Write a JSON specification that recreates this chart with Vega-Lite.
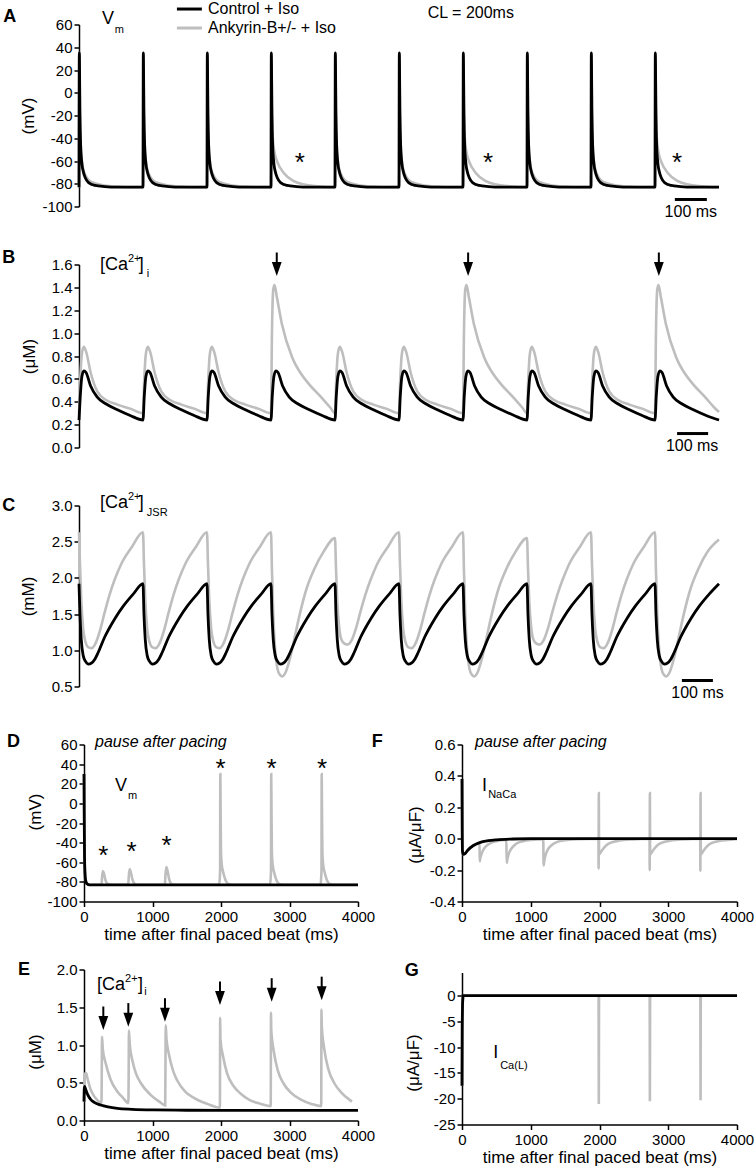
{
"$schema":"https://vega.github.io/schema/vega-lite/v6.json",
"padding":{"left":2,"top":0.5,"right":5,"bottom":5},
"background":"white",
"config":{"font":"Liberation Sans","view":{"stroke":null},
"axis":{"labelFont":"Liberation Sans","labelFontSize":15,"labelColor":"#000","titleFont":"Liberation Sans","titleFontSize":17,"titleFontWeight":"normal","titleColor":"#000","domainColor":"#000","domainWidth":1.5,"tickColor":"#000","tickWidth":1.5,"tickSize":5,"labelPadding":2,"grid":false,"labelOverlap":false,"labelFlush":false}},
"datasets":{
"Ac":[{"t":0,"v":-83},{"t":1,"v":35},{"t":3,"v":-20},{"t":5,"v":-45},{"t":9,"v":-62},{"t":14,"v":-70},{"t":20,"v":-75},{"t":30,"v":-79},{"t":50,"v":-81.5},{"t":80,"v":-82.5},{"t":120,"v":-83},
{"t":200,"v":-83},{"t":201,"v":35},{"t":203,"v":-20},{"t":205,"v":-45},{"t":209,"v":-62},{"t":214,"v":-70},{"t":220,"v":-75},{"t":230,"v":-79},{"t":250,"v":-81.5},{"t":280,"v":-82.5},{"t":320,"v":-83},
{"t":400,"v":-83},{"t":401,"v":35},{"t":403,"v":-20},{"t":405,"v":-45},{"t":409,"v":-62},{"t":414,"v":-70},{"t":420,"v":-75},{"t":430,"v":-79},{"t":450,"v":-81.5},{"t":480,"v":-82.5},{"t":520,"v":-83},
{"t":600,"v":-83},{"t":601,"v":35},{"t":603,"v":-20},{"t":605,"v":-45},{"t":609,"v":-62},{"t":614,"v":-70},{"t":620,"v":-75},{"t":630,"v":-79},{"t":650,"v":-81.5},{"t":680,"v":-82.5},{"t":720,"v":-83},
{"t":800,"v":-83},{"t":801,"v":35},{"t":803,"v":-20},{"t":805,"v":-45},{"t":809,"v":-62},{"t":814,"v":-70},{"t":820,"v":-75},{"t":830,"v":-79},{"t":850,"v":-81.5},{"t":880,"v":-82.5},{"t":920,"v":-83},
{"t":1000,"v":-83},{"t":1001,"v":35},{"t":1003,"v":-20},{"t":1005,"v":-45},{"t":1009,"v":-62},{"t":1014,"v":-70},{"t":1020,"v":-75},{"t":1030,"v":-79},{"t":1050,"v":-81.5},{"t":1080,"v":-82.5},{"t":1120,"v":-83},
{"t":1200,"v":-83},{"t":1201,"v":35},{"t":1203,"v":-20},{"t":1205,"v":-45},{"t":1209,"v":-62},{"t":1214,"v":-70},{"t":1220,"v":-75},{"t":1230,"v":-79},{"t":1250,"v":-81.5},{"t":1280,"v":-82.5},{"t":1320,"v":-83},
{"t":1400,"v":-83},{"t":1401,"v":35},{"t":1403,"v":-20},{"t":1405,"v":-45},{"t":1409,"v":-62},{"t":1414,"v":-70},{"t":1420,"v":-75},{"t":1430,"v":-79},{"t":1450,"v":-81.5},{"t":1480,"v":-82.5},{"t":1520,"v":-83},
{"t":1600,"v":-83},{"t":1601,"v":35},{"t":1603,"v":-20},{"t":1605,"v":-45},{"t":1609,"v":-62},{"t":1614,"v":-70},{"t":1620,"v":-75},{"t":1630,"v":-79},{"t":1650,"v":-81.5},{"t":1680,"v":-82.5},{"t":1720,"v":-83},
{"t":1800,"v":-83},{"t":1801,"v":35},{"t":1803,"v":-20},{"t":1805,"v":-45},{"t":1809,"v":-62},{"t":1814,"v":-70},{"t":1820,"v":-75},{"t":1830,"v":-79},{"t":1850,"v":-81.5},{"t":1880,"v":-82.5},{"t":1920,"v":-83},
{"t":2000,"v":-83}],
"Aa":[{"t":0,"v":-83},{"t":1,"v":35},{"t":3,"v":-18},{"t":5,"v":-43},{"t":9,"v":-60},{"t":14,"v":-68},{"t":20,"v":-72.5},{"t":30,"v":-76.5},{"t":50,"v":-79.5},{"t":80,"v":-81.5},{"t":120,"v":-82.5},{"t":170,"v":-83},
{"t":200,"v":-83},{"t":201,"v":35},{"t":203,"v":-18},{"t":205,"v":-43},{"t":209,"v":-60},{"t":214,"v":-68},{"t":220,"v":-72.5},{"t":230,"v":-76.5},{"t":250,"v":-79.5},{"t":280,"v":-81.5},{"t":320,"v":-82.5},{"t":370,"v":-83},
{"t":400,"v":-83},{"t":401,"v":35},{"t":403,"v":-18},{"t":405,"v":-43},{"t":409,"v":-60},{"t":414,"v":-68},{"t":420,"v":-72.5},{"t":430,"v":-76.5},{"t":450,"v":-79.5},{"t":480,"v":-81.5},{"t":520,"v":-82.5},{"t":570,"v":-83},
{"t":600,"v":-83},{"t":601,"v":35},{"t":603,"v":-10},{"t":605,"v":-36},{"t":610,"v":-51},{"t":620,"v":-61},{"t":640,"v":-70.5},{"t":670,"v":-77.5},{"t":700,"v":-80.5},{"t":740,"v":-82},{"t":780,"v":-83},
{"t":800,"v":-83},{"t":801,"v":35},{"t":803,"v":-18},{"t":805,"v":-43},{"t":809,"v":-60},{"t":814,"v":-68},{"t":820,"v":-72.5},{"t":830,"v":-76.5},{"t":850,"v":-79.5},{"t":880,"v":-81.5},{"t":920,"v":-82.5},{"t":970,"v":-83},
{"t":1000,"v":-83},{"t":1001,"v":35},{"t":1003,"v":-18},{"t":1005,"v":-43},{"t":1009,"v":-60},{"t":1014,"v":-68},{"t":1020,"v":-72.5},{"t":1030,"v":-76.5},{"t":1050,"v":-79.5},{"t":1080,"v":-81.5},{"t":1120,"v":-82.5},{"t":1170,"v":-83},
{"t":1200,"v":-83},{"t":1201,"v":35},{"t":1203,"v":-10},{"t":1205,"v":-36},{"t":1210,"v":-51},{"t":1220,"v":-61},{"t":1240,"v":-70.5},{"t":1270,"v":-77.5},{"t":1300,"v":-80.5},{"t":1340,"v":-82},{"t":1380,"v":-83},
{"t":1400,"v":-83},{"t":1401,"v":35},{"t":1403,"v":-18},{"t":1405,"v":-43},{"t":1409,"v":-60},{"t":1414,"v":-68},{"t":1420,"v":-72.5},{"t":1430,"v":-76.5},{"t":1450,"v":-79.5},{"t":1480,"v":-81.5},{"t":1520,"v":-82.5},{"t":1570,"v":-83},
{"t":1600,"v":-83},{"t":1601,"v":35},{"t":1603,"v":-18},{"t":1605,"v":-43},{"t":1609,"v":-60},{"t":1614,"v":-68},{"t":1620,"v":-72.5},{"t":1630,"v":-76.5},{"t":1650,"v":-79.5},{"t":1680,"v":-81.5},{"t":1720,"v":-82.5},{"t":1770,"v":-83},
{"t":1800,"v":-83},{"t":1801,"v":35},{"t":1803,"v":-10},{"t":1805,"v":-36},{"t":1810,"v":-51},{"t":1820,"v":-61},{"t":1840,"v":-70.5},{"t":1870,"v":-77.5},{"t":1900,"v":-80.5},{"t":1940,"v":-82},{"t":1980,"v":-83},
{"t":2000,"v":-83}],
"Bc":[{"t":0,"v":0.24},{"t":4,"v":0.45},{"t":9,"v":0.62},{"t":15,"v":0.67},{"t":22,"v":0.655},{"t":36,"v":0.54},{"t":57,"v":0.44},{"t":85,"v":0.38},{"t":120,"v":0.33},{"t":160,"v":0.28},
{"t":200,"v":0.24},{"t":204,"v":0.45},{"t":209,"v":0.62},{"t":215,"v":0.67},{"t":222,"v":0.655},{"t":236,"v":0.54},{"t":257,"v":0.44},{"t":285,"v":0.38},{"t":320,"v":0.33},{"t":360,"v":0.28},
{"t":400,"v":0.24},{"t":404,"v":0.45},{"t":409,"v":0.62},{"t":415,"v":0.67},{"t":422,"v":0.655},{"t":436,"v":0.54},{"t":457,"v":0.44},{"t":485,"v":0.38},{"t":520,"v":0.33},{"t":560,"v":0.28},
{"t":600,"v":0.24},{"t":604,"v":0.45},{"t":609,"v":0.62},{"t":615,"v":0.67},{"t":622,"v":0.655},{"t":636,"v":0.54},{"t":657,"v":0.44},{"t":685,"v":0.38},{"t":720,"v":0.33},{"t":760,"v":0.28},
{"t":800,"v":0.24},{"t":804,"v":0.45},{"t":809,"v":0.62},{"t":815,"v":0.67},{"t":822,"v":0.655},{"t":836,"v":0.54},{"t":857,"v":0.44},{"t":885,"v":0.38},{"t":920,"v":0.33},{"t":960,"v":0.28},
{"t":1000,"v":0.24},{"t":1004,"v":0.45},{"t":1009,"v":0.62},{"t":1015,"v":0.67},{"t":1022,"v":0.655},{"t":1036,"v":0.54},{"t":1057,"v":0.44},{"t":1085,"v":0.38},{"t":1120,"v":0.33},{"t":1160,"v":0.28},
{"t":1200,"v":0.24},{"t":1204,"v":0.45},{"t":1209,"v":0.62},{"t":1215,"v":0.67},{"t":1222,"v":0.655},{"t":1236,"v":0.54},{"t":1257,"v":0.44},{"t":1285,"v":0.38},{"t":1320,"v":0.33},{"t":1360,"v":0.28},
{"t":1400,"v":0.24},{"t":1404,"v":0.45},{"t":1409,"v":0.62},{"t":1415,"v":0.67},{"t":1422,"v":0.655},{"t":1436,"v":0.54},{"t":1457,"v":0.44},{"t":1485,"v":0.38},{"t":1520,"v":0.33},{"t":1560,"v":0.28},
{"t":1600,"v":0.24},{"t":1604,"v":0.45},{"t":1609,"v":0.62},{"t":1615,"v":0.67},{"t":1622,"v":0.655},{"t":1636,"v":0.54},{"t":1657,"v":0.44},{"t":1685,"v":0.38},{"t":1720,"v":0.33},{"t":1760,"v":0.28},
{"t":1800,"v":0.24},{"t":1804,"v":0.45},{"t":1809,"v":0.62},{"t":1815,"v":0.67},{"t":1822,"v":0.655},{"t":1836,"v":0.54},{"t":1857,"v":0.44},{"t":1885,"v":0.38},{"t":1920,"v":0.33},{"t":1960,"v":0.28},
{"t":2000,"v":0.24}],
"Ba":[{"t":0,"v":0.3},{"t":4,"v":0.6},{"t":9,"v":0.82},{"t":15,"v":0.88},{"t":22,"v":0.84},{"t":36,"v":0.66},{"t":57,"v":0.49},{"t":85,"v":0.415},{"t":120,"v":0.375},{"t":160,"v":0.34},
{"t":200,"v":0.3},{"t":204,"v":0.6},{"t":209,"v":0.82},{"t":215,"v":0.88},{"t":222,"v":0.84},{"t":236,"v":0.66},{"t":257,"v":0.49},{"t":285,"v":0.415},{"t":320,"v":0.375},{"t":360,"v":0.34},
{"t":400,"v":0.3},{"t":404,"v":0.6},{"t":409,"v":0.82},{"t":415,"v":0.88},{"t":422,"v":0.84},{"t":436,"v":0.66},{"t":457,"v":0.49},{"t":485,"v":0.415},{"t":520,"v":0.375},{"t":560,"v":0.34},
{"t":600,"v":0.3},{"t":603,"v":1.0},{"t":607,"v":1.38},{"t":611,"v":1.42},{"t":618,"v":1.32},{"t":634,"v":1.08},{"t":666,"v":0.79},{"t":695,"v":0.64},{"t":720,"v":0.55},{"t":760,"v":0.43},{"t":785,"v":0.35},
{"t":800,"v":0.3},{"t":804,"v":0.6},{"t":809,"v":0.82},{"t":815,"v":0.88},{"t":822,"v":0.84},{"t":836,"v":0.66},{"t":857,"v":0.49},{"t":885,"v":0.415},{"t":920,"v":0.375},{"t":960,"v":0.34},
{"t":1000,"v":0.3},{"t":1004,"v":0.6},{"t":1009,"v":0.82},{"t":1015,"v":0.88},{"t":1022,"v":0.84},{"t":1036,"v":0.66},{"t":1057,"v":0.49},{"t":1085,"v":0.415},{"t":1120,"v":0.375},{"t":1160,"v":0.34},
{"t":1200,"v":0.3},{"t":1203,"v":1.0},{"t":1207,"v":1.38},{"t":1211,"v":1.42},{"t":1218,"v":1.32},{"t":1234,"v":1.08},{"t":1266,"v":0.79},{"t":1295,"v":0.64},{"t":1320,"v":0.55},{"t":1360,"v":0.43},{"t":1385,"v":0.35},
{"t":1400,"v":0.3},{"t":1404,"v":0.6},{"t":1409,"v":0.82},{"t":1415,"v":0.88},{"t":1422,"v":0.84},{"t":1436,"v":0.66},{"t":1457,"v":0.49},{"t":1485,"v":0.415},{"t":1520,"v":0.375},{"t":1560,"v":0.34},
{"t":1600,"v":0.3},{"t":1604,"v":0.6},{"t":1609,"v":0.82},{"t":1615,"v":0.88},{"t":1622,"v":0.84},{"t":1636,"v":0.66},{"t":1657,"v":0.49},{"t":1685,"v":0.415},{"t":1720,"v":0.375},{"t":1760,"v":0.34},
{"t":1800,"v":0.3},{"t":1803,"v":1.0},{"t":1807,"v":1.38},{"t":1811,"v":1.42},{"t":1818,"v":1.32},{"t":1834,"v":1.08},{"t":1866,"v":0.79},{"t":1895,"v":0.64},{"t":1920,"v":0.55},{"t":1960,"v":0.43},{"t":1985,"v":0.35},
{"t":2000,"v":0.31}],
"Cc":[{"t":0,"v":1.92},{"t":3,"v":1.5},{"t":7,"v":1.15},{"t":13,"v":0.93},{"t":20,"v":0.85},{"t":30,"v":0.81},{"t":38,"v":0.82},{"t":50,"v":0.88},{"t":60,"v":0.97},{"t":80,"v":1.18},{"t":111,"v":1.43},{"t":140,"v":1.62},{"t":170,"v":1.78},
{"t":200,"v":1.92},{"t":203,"v":1.5},{"t":207,"v":1.15},{"t":213,"v":0.93},{"t":220,"v":0.85},{"t":230,"v":0.81},{"t":238,"v":0.82},{"t":250,"v":0.88},{"t":260,"v":0.97},{"t":280,"v":1.18},{"t":311,"v":1.43},{"t":340,"v":1.62},{"t":370,"v":1.78},
{"t":400,"v":1.92},{"t":403,"v":1.5},{"t":407,"v":1.15},{"t":413,"v":0.93},{"t":420,"v":0.85},{"t":430,"v":0.81},{"t":438,"v":0.82},{"t":450,"v":0.88},{"t":460,"v":0.97},{"t":480,"v":1.18},{"t":511,"v":1.43},{"t":540,"v":1.62},{"t":570,"v":1.78},
{"t":600,"v":1.92},{"t":603,"v":1.5},{"t":607,"v":1.15},{"t":613,"v":0.93},{"t":620,"v":0.85},{"t":630,"v":0.81},{"t":638,"v":0.82},{"t":650,"v":0.88},{"t":660,"v":0.97},{"t":680,"v":1.18},{"t":711,"v":1.43},{"t":740,"v":1.62},{"t":770,"v":1.78},
{"t":800,"v":1.92},{"t":803,"v":1.5},{"t":807,"v":1.15},{"t":813,"v":0.93},{"t":820,"v":0.85},{"t":830,"v":0.81},{"t":838,"v":0.82},{"t":850,"v":0.88},{"t":860,"v":0.97},{"t":880,"v":1.18},{"t":911,"v":1.43},{"t":940,"v":1.62},{"t":970,"v":1.78},
{"t":1000,"v":1.92},{"t":1003,"v":1.5},{"t":1007,"v":1.15},{"t":1013,"v":0.93},{"t":1020,"v":0.85},{"t":1030,"v":0.81},{"t":1038,"v":0.82},{"t":1050,"v":0.88},{"t":1060,"v":0.97},{"t":1080,"v":1.18},{"t":1111,"v":1.43},{"t":1140,"v":1.62},{"t":1170,"v":1.78},
{"t":1200,"v":1.92},{"t":1203,"v":1.5},{"t":1207,"v":1.15},{"t":1213,"v":0.93},{"t":1220,"v":0.85},{"t":1230,"v":0.81},{"t":1238,"v":0.82},{"t":1250,"v":0.88},{"t":1260,"v":0.97},{"t":1280,"v":1.18},{"t":1311,"v":1.43},{"t":1340,"v":1.62},{"t":1370,"v":1.78},
{"t":1400,"v":1.92},{"t":1403,"v":1.5},{"t":1407,"v":1.15},{"t":1413,"v":0.93},{"t":1420,"v":0.85},{"t":1430,"v":0.81},{"t":1438,"v":0.82},{"t":1450,"v":0.88},{"t":1460,"v":0.97},{"t":1480,"v":1.18},{"t":1511,"v":1.43},{"t":1540,"v":1.62},{"t":1570,"v":1.78},
{"t":1600,"v":1.92},{"t":1603,"v":1.5},{"t":1607,"v":1.15},{"t":1613,"v":0.93},{"t":1620,"v":0.85},{"t":1630,"v":0.81},{"t":1638,"v":0.82},{"t":1650,"v":0.88},{"t":1660,"v":0.97},{"t":1680,"v":1.18},{"t":1711,"v":1.43},{"t":1740,"v":1.62},{"t":1770,"v":1.78},
{"t":1800,"v":1.92},{"t":1803,"v":1.5},{"t":1807,"v":1.15},{"t":1813,"v":0.93},{"t":1820,"v":0.85},{"t":1830,"v":0.81},{"t":1838,"v":0.82},{"t":1850,"v":0.88},{"t":1860,"v":0.97},{"t":1880,"v":1.18},{"t":1911,"v":1.43},{"t":1940,"v":1.62},{"t":1970,"v":1.78},
{"t":2000,"v":1.92}],
"Ca":[{"t":0,"v":2.63},{"t":3,"v":2.2},{"t":7,"v":1.7},{"t":13,"v":1.3},{"t":20,"v":1.12},{"t":30,"v":1.04},{"t":40,"v":1.03},{"t":52,"v":1.1},{"t":66,"v":1.28},{"t":80,"v":1.52},{"t":95,"v":1.76},{"t":111,"v":1.97},{"t":135,"v":2.22},{"t":164,"v":2.42},
{"t":200,"v":2.63},{"t":203,"v":2.2},{"t":207,"v":1.7},{"t":213,"v":1.3},{"t":220,"v":1.12},{"t":230,"v":1.04},{"t":240,"v":1.03},{"t":252,"v":1.1},{"t":266,"v":1.28},{"t":280,"v":1.52},{"t":295,"v":1.76},{"t":311,"v":1.97},{"t":335,"v":2.22},{"t":364,"v":2.42},
{"t":400,"v":2.63},{"t":403,"v":2.2},{"t":407,"v":1.7},{"t":413,"v":1.3},{"t":420,"v":1.12},{"t":430,"v":1.04},{"t":440,"v":1.03},{"t":452,"v":1.1},{"t":466,"v":1.28},{"t":480,"v":1.52},{"t":495,"v":1.76},{"t":511,"v":1.97},{"t":535,"v":2.22},{"t":564,"v":2.42},
{"t":600,"v":2.63},{"t":603,"v":2.1},{"t":607,"v":1.5},{"t":613,"v":1.0},{"t":620,"v":0.75},{"t":628,"v":0.66},{"t":636,"v":0.64},{"t":646,"v":0.7},{"t":660,"v":0.9},{"t":675,"v":1.2},{"t":690,"v":1.5},{"t":711,"v":1.85},{"t":735,"v":2.12},{"t":764,"v":2.36},
{"t":800,"v":2.55},{"t":803,"v":2.15},{"t":807,"v":1.68},{"t":813,"v":1.32},{"t":820,"v":1.15},{"t":830,"v":1.09},{"t":840,"v":1.08},{"t":852,"v":1.14},{"t":866,"v":1.31},{"t":880,"v":1.54},{"t":895,"v":1.77},{"t":911,"v":1.97},{"t":935,"v":2.22},{"t":964,"v":2.42},
{"t":1000,"v":2.63},{"t":1003,"v":2.2},{"t":1007,"v":1.7},{"t":1013,"v":1.3},{"t":1020,"v":1.12},{"t":1030,"v":1.04},{"t":1040,"v":1.03},{"t":1052,"v":1.1},{"t":1066,"v":1.28},{"t":1080,"v":1.52},{"t":1095,"v":1.76},{"t":1111,"v":1.97},{"t":1135,"v":2.22},{"t":1164,"v":2.42},
{"t":1200,"v":2.63},{"t":1203,"v":2.1},{"t":1207,"v":1.5},{"t":1213,"v":1.0},{"t":1220,"v":0.75},{"t":1228,"v":0.66},{"t":1236,"v":0.64},{"t":1246,"v":0.7},{"t":1260,"v":0.9},{"t":1275,"v":1.2},{"t":1290,"v":1.5},{"t":1311,"v":1.85},{"t":1335,"v":2.12},{"t":1364,"v":2.36},
{"t":1400,"v":2.55},{"t":1403,"v":2.15},{"t":1407,"v":1.68},{"t":1413,"v":1.32},{"t":1420,"v":1.15},{"t":1430,"v":1.09},{"t":1440,"v":1.08},{"t":1452,"v":1.14},{"t":1466,"v":1.31},{"t":1480,"v":1.54},{"t":1495,"v":1.77},{"t":1511,"v":1.97},{"t":1535,"v":2.22},{"t":1564,"v":2.42},
{"t":1600,"v":2.63},{"t":1603,"v":2.2},{"t":1607,"v":1.7},{"t":1613,"v":1.3},{"t":1620,"v":1.12},{"t":1630,"v":1.04},{"t":1640,"v":1.03},{"t":1652,"v":1.1},{"t":1666,"v":1.28},{"t":1680,"v":1.52},{"t":1695,"v":1.76},{"t":1711,"v":1.97},{"t":1735,"v":2.22},{"t":1764,"v":2.42},
{"t":1800,"v":2.63},{"t":1803,"v":2.1},{"t":1807,"v":1.5},{"t":1813,"v":1.0},{"t":1820,"v":0.75},{"t":1828,"v":0.66},{"t":1836,"v":0.64},{"t":1846,"v":0.7},{"t":1860,"v":0.9},{"t":1875,"v":1.2},{"t":1890,"v":1.5},{"t":1911,"v":1.85},{"t":1935,"v":2.12},{"t":1964,"v":2.36},
{"t":2000,"v":2.53}],
"Dc":[{"t":0,"v":30},{"t":3,"v":-10},{"t":8,"v":-55},{"t":15,"v":-72},{"t":25,"v":-79},{"t":45,"v":-82},{"t":80,"v":-83},{"t":4000,"v":-83}],
"Da":[{"t":0,"v":30},{"t":3,"v":-8},{"t":8,"v":-52},{"t":15,"v":-70},{"t":25,"v":-78},{"t":45,"v":-81.5},{"t":90,"v":-83},
{"t":255,"v":-83},{"t":265,"v":-74},{"t":276,"v":-69},{"t":290,"v":-71},{"t":312,"v":-78},{"t":345,"v":-82},{"t":400,"v":-83},
{"t":645,"v":-83},{"t":655,"v":-73},{"t":667,"v":-67},{"t":681,"v":-69.5},{"t":705,"v":-77},{"t":740,"v":-82},{"t":800,"v":-83},
{"t":1180,"v":-83},{"t":1190,"v":-72},{"t":1203,"v":-65},{"t":1217,"v":-68},{"t":1242,"v":-77},{"t":1278,"v":-82},{"t":1340,"v":-83},
{"t":1975,"v":-83},{"t":1983,"v":-75},{"t":1987,"v":-68},{"t":1990,"v":30},{"t":1994,"v":-5},{"t":2000,"v":-50},{"t":2012,"v":-63},{"t":2035,"v":-71},{"t":2065,"v":-78},{"t":2105,"v":-82},{"t":2160,"v":-83},
{"t":2718,"v":-83},{"t":2726,"v":-75},{"t":2730,"v":-68},{"t":2733,"v":30},{"t":2737,"v":-5},{"t":2743,"v":-50},{"t":2755,"v":-63},{"t":2778,"v":-71},{"t":2808,"v":-78},{"t":2848,"v":-82},{"t":2903,"v":-83},
{"t":3455,"v":-83},{"t":3463,"v":-75},{"t":3467,"v":-68},{"t":3470,"v":30},{"t":3474,"v":-5},{"t":3480,"v":-50},{"t":3492,"v":-63},{"t":3515,"v":-71},{"t":3545,"v":-78},{"t":3585,"v":-82},{"t":3640,"v":-83},
{"t":4000,"v":-83}],
"Ec":[{"t":0,"v":0.25},{"t":4,"v":0.42},{"t":10,"v":0.45},{"t":25,"v":0.41},{"t":50,"v":0.35},{"t":97,"v":0.28},{"t":150,"v":0.24},{"t":243,"v":0.205},{"t":350,"v":0.18},{"t":486,"v":0.16},{"t":700,"v":0.148},{"t":1000,"v":0.14},{"t":1500,"v":0.136},{"t":2500,"v":0.135},{"t":4000,"v":0.135}],
"Ea":[{"t":0,"v":0.25},{"t":6,"v":0.5},{"t":15,"v":0.62},{"t":30,"v":0.63},{"t":50,"v":0.56},{"t":97,"v":0.41},{"t":150,"v":0.32},{"t":194,"v":0.27},{"t":255,"v":0.23},
{"t":259,"v":0.6},{"t":263,"v":1.11},{"t":274,"v":0.95},{"t":316,"v":0.76},{"t":389,"v":0.54},{"t":486,"v":0.385},{"t":570,"v":0.3},{"t":648,"v":0.23},
{"t":652,"v":0.6},{"t":656,"v":1.19},{"t":667,"v":1.02},{"t":705,"v":0.8},{"t":760,"v":0.62},{"t":826,"v":0.5},{"t":972,"v":0.34},{"t":1100,"v":0.25},{"t":1185,"v":0.2},
{"t":1189,"v":0.65},{"t":1193,"v":1.26},{"t":1204,"v":1.08},{"t":1239,"v":0.88},{"t":1300,"v":0.66},{"t":1361,"v":0.53},{"t":1480,"v":0.38},{"t":1604,"v":0.3},{"t":1800,"v":0.22},{"t":1984,"v":0.17},
{"t":1988,"v":1.36},{"t":1992,"v":1.07},{"t":2030,"v":0.85},{"t":2090,"v":0.62},{"t":2180,"v":0.46},{"t":2280,"v":0.36},{"t":2420,"v":0.27},{"t":2580,"v":0.22},{"t":2726,"v":0.19},
{"t":2730,"v":1.43},{"t":2734,"v":1.2},{"t":2770,"v":0.92},{"t":2830,"v":0.66},{"t":2920,"v":0.48},{"t":3020,"v":0.37},{"t":3160,"v":0.28},{"t":3320,"v":0.22},{"t":3463,"v":0.19},
{"t":3467,"v":1.47},{"t":3471,"v":1.25},{"t":3507,"v":0.95},{"t":3567,"v":0.68},{"t":3657,"v":0.49},{"t":3757,"v":0.37},{"t":3897,"v":0.26},{"t":3912,"v":0.25}],
"Fc":[{"t":0,"v":0.38},{"t":3,"v":0.05},{"t":7,"v":-0.08},{"t":20,"v":-0.1},{"t":40,"v":-0.097},{"t":80,"v":-0.075},{"t":160,"v":-0.045},{"t":257,"v":-0.025},{"t":380,"v":-0.013},{"t":500,"v":-0.007},{"t":743,"v":-0.002},{"t":1000,"v":0},{"t":4000,"v":0}],
"Fa":[{"t":0,"v":0.38},{"t":3,"v":0.05},{"t":7,"v":-0.08},{"t":20,"v":-0.1},{"t":40,"v":-0.097},{"t":80,"v":-0.075},{"t":160,"v":-0.045},{"t":250,"v":-0.027},
{"t":255,"v":-0.027},{"t":258,"v":-0.145},{"t":268,"v":-0.12},{"t":290,"v":-0.09},{"t":318,"v":-0.065},{"t":378,"v":-0.037},{"t":458,"v":-0.02},{"t":560,"v":-0.01},{"t":645,"v":-0.006},
{"t":650,"v":-0.155},{"t":660,"v":-0.13},{"t":682,"v":-0.095},{"t":710,"v":-0.068},{"t":770,"v":-0.038},{"t":850,"v":-0.02},{"t":950,"v":-0.01},{"t":1100,"v":-0.004},{"t":1182,"v":-0.003},
{"t":1187,"v":-0.17},{"t":1197,"v":-0.14},{"t":1219,"v":-0.1},{"t":1247,"v":-0.07},{"t":1307,"v":-0.04},{"t":1387,"v":-0.02},{"t":1500,"v":-0.01},{"t":1700,"v":-0.003},{"t":1980,"v":0},
{"t":1985,"v":-0.005},{"t":1987,"v":-0.19},{"t":1990,"v":0.29},{"t":1993,"v":-0.08},{"t":1998,"v":-0.1},{"t":2020,"v":-0.085},{"t":2070,"v":-0.055},{"t":2140,"v":-0.03},{"t":2290,"v":-0.012},{"t":2490,"v":-0.004},{"t":2725,"v":0},
{"t":2728,"v":-0.005},{"t":2730,"v":-0.2},{"t":2733,"v":0.29},{"t":2736,"v":-0.08},{"t":2741,"v":-0.1},{"t":2763,"v":-0.085},{"t":2813,"v":-0.055},{"t":2883,"v":-0.03},{"t":3033,"v":-0.012},{"t":3233,"v":-0.004},{"t":3462,"v":0},
{"t":3465,"v":-0.005},{"t":3467,"v":-0.205},{"t":3470,"v":0.29},{"t":3473,"v":-0.08},{"t":3478,"v":-0.1},{"t":3500,"v":-0.085},{"t":3550,"v":-0.055},{"t":3620,"v":-0.03},{"t":3770,"v":-0.012},{"t":3970,"v":-0.004},{"t":4000,"v":-0.003}],
"Gc":[{"t":0,"v":-17.5},{"t":3,"v":-6},{"t":8,"v":-1.5},{"t":15,"v":0},{"t":4000,"v":0}],
"Ga":[{"t":0,"v":-17.5},{"t":3,"v":-6},{"t":8,"v":-1.5},{"t":15,"v":0},{"t":1987,"v":0},{"t":1990,"v":-21},{"t":1993,"v":0},{"t":2730,"v":0},{"t":2733,"v":-20.5},{"t":2736,"v":0},{"t":3467,"v":0},{"t":3470,"v":-20.3},{"t":3473,"v":0},{"t":4000,"v":0}],
"ann":[
{"p":"A","k":"letter","t":-237,"v":67,"txt":"A"},
{"p":"A","k":"big","t":72,"v":64.4,"txt":"V"},
{"p":"A","k":"sub","t":112,"v":55.6,"txt":"m"},
{"p":"A","k":"legc","t":306,"t2":384,"v":73.6},
{"p":"A","k":"lega","t":306,"t2":384,"v":56.9},
{"p":"A","k":"note","t":403,"v":73.6,"txt":"Control + Iso"},
{"p":"A","k":"note","t":403,"v":56.9,"txt":"Ankyrin-B+/- + Iso"},
{"p":"A","k":"note","t":1090,"v":70.1,"txt":"CL = 200ms"},
{"p":"A","k":"star","t":690,"v":-56,"txt":"*"},
{"p":"A","k":"star","t":1278,"v":-56,"txt":"*"},
{"p":"A","k":"star","t":1869,"v":-56,"txt":"*"},
{"p":"A","k":"bar","t":1862,"t2":1962,"v":-93.8},
{"p":"A","k":"cnote","t":1912,"v":-104.4,"txt":"100 ms"},
{"p":"B","k":"letter","t":-240,"v":1.66,"txt":"B"},
{"p":"B","k":"big","t":66,"v":1.6,"txt":"[Ca"},
{"p":"B","k":"sub","t":153,"v":1.65,"txt":"2+"},
{"p":"B","k":"big","t":187,"v":1.6,"txt":"]"},
{"p":"B","k":"sub","t":212,"v":1.52,"txt":"i"},
{"p":"B","k":"arrow","t":618,"v":1.705,"v2":1.6},
{"p":"B","k":"arrow","t":1216,"v":1.705,"v2":1.6},
{"p":"B","k":"arrow","t":1812,"v":1.705,"v2":1.6},
{"p":"B","k":"head","t":618,"v":1.561},
{"p":"B","k":"head","t":1216,"v":1.561},
{"p":"B","k":"head","t":1812,"v":1.561},
{"p":"B","k":"bar","t":1869,"t2":1966,"v":0.122},
{"p":"B","k":"cnote","t":1916,"v":0.017,"txt":"100 ms"},
{"p":"C","k":"letter","t":-240,"v":2.99,"txt":"C"},
{"p":"C","k":"big","t":66,"v":3.04,"txt":"[Ca"},
{"p":"C","k":"sub","t":153,"v":3.12,"txt":"2+"},
{"p":"C","k":"big","t":187,"v":3.04,"txt":"]"},
{"p":"C","k":"sub","t":212,"v":2.9,"txt":"JSR"},
{"p":"C","k":"bar","t":1884,"t2":1981,"v":0.583},
{"p":"C","k":"cnote","t":1933,"v":0.417,"txt":"100 ms"},
{"p":"D","k":"letter","t":-1124,"v":63,"txt":"D"},
{"p":"D","k":"ital","t":161,"v":63,"txt":"pause after pacing"},
{"p":"D","k":"big","t":453,"v":17.2,"txt":"V"},
{"p":"D","k":"sub","t":642,"v":8,"txt":"m"},
{"p":"D","k":"star","t":282,"v":-47,"txt":"*"},
{"p":"D","k":"star","t":696,"v":-42.9,"txt":"*"},
{"p":"D","k":"star","t":1207,"v":-36.8,"txt":"*"},
{"p":"D","k":"star","t":1995,"v":41.7,"txt":"*"},
{"p":"D","k":"star","t":2738,"v":41.7,"txt":"*"},
{"p":"D","k":"star","t":3475,"v":41.7,"txt":"*"},
{"p":"E","k":"letter","t":-964,"v":1.99,"txt":"E"},
{"p":"E","k":"big","t":190,"v":1.8,"txt":"[Ca"},
{"p":"E","k":"sub","t":599,"v":1.87,"txt":"2+"},
{"p":"E","k":"big","t":788,"v":1.8,"txt":"]"},
{"p":"E","k":"sub","t":880,"v":1.7,"txt":"i"},
{"p":"E","k":"arrow","t":282,"v":1.51,"v2":1.355},
{"p":"E","k":"arrow","t":647,"v":1.555,"v2":1.4},
{"p":"E","k":"arrow","t":1182,"v":1.62,"v2":1.465},
{"p":"E","k":"arrow","t":1985,"v":1.841,"v2":1.686},
{"p":"E","k":"arrow","t":2740,"v":1.885,"v2":1.73},
{"p":"E","k":"arrow","t":3470,"v":1.905,"v2":1.75},
{"p":"E","k":"head","t":282,"v":1.291},
{"p":"E","k":"head","t":647,"v":1.336},
{"p":"E","k":"head","t":1182,"v":1.401},
{"p":"E","k":"head","t":1985,"v":1.622},
{"p":"E","k":"head","t":2740,"v":1.666},
{"p":"E","k":"head","t":3470,"v":1.686},
{"p":"F","k":"letter","t":-1314,"v":0.613,"txt":"F"},
{"p":"F","k":"ital","t":190,"v":0.613,"txt":"pause after pacing"},
{"p":"F","k":"big","t":292,"v":0.334,"txt":"I"},
{"p":"F","k":"sub","t":380,"v":0.28,"txt":"NaCa"},
{"p":"G","k":"letter","t":-832,"v":4.8,"txt":"G"},
{"p":"G","k":"big","t":453,"v":-11.2,"txt":"I"},
{"p":"G","k":"sub","t":555,"v":-13.7,"txt":"Ca(L)"}
]},
"spacing":58,
"bounds":"flush",
"resolve":{"scale":{"x":"independent","y":"independent"}},
"vconcat":[
{"width":640,"height":182,
"encoding":{"x":{"field":"t","type":"quantitative","scale":{"domain":[0,2000],"nice":false,"zero":false},"axis":null},
"y":{"field":"v","type":"quantitative","scale":{"domain":[-100,60],"nice":false,"zero":false},"axis":{"title":"(mV)","values":[-100,-80,-60,-40,-20,0,20,40,60],"titleX":-51,"titleBaseline":"middle","labelExpr":"replace(datum.label,'−','-')"}}},
"layer":[
{"data":{"name":"Aa"},"mark":{"type":"line","color":"#bebebe","strokeWidth":2.6,"interpolate":"monotone"}},
{"data":{"name":"Ac"},"mark":{"type":"line","color":"#000000","strokeWidth":2.8,"interpolate":"monotone"}},
{"data":{"name":"ann"},"transform":[{"filter":"datum.p==='A'&&datum.k==='letter'"}],"mark":{"type":"text","align":"left","baseline":"middle","fontSize":18,"fontWeight":"bold","color":"#000"},"encoding":{"text":{"field":"txt"}}},
{"data":{"name":"ann"},"transform":[{"filter":"datum.p==='A'&&datum.k==='big'"}],"mark":{"type":"text","align":"left","baseline":"middle","fontSize":18,"color":"#000"},"encoding":{"text":{"field":"txt"}}},
{"data":{"name":"ann"},"transform":[{"filter":"datum.p==='A'&&datum.k==='sub'"}],"mark":{"type":"text","align":"left","baseline":"middle","fontSize":11,"color":"#000"},"encoding":{"text":{"field":"txt"}}},
{"data":{"name":"ann"},"transform":[{"filter":"datum.p==='A'&&datum.k==='note'"}],"mark":{"type":"text","align":"left","baseline":"middle","fontSize":16,"color":"#000"},"encoding":{"text":{"field":"txt"}}},
{"data":{"name":"ann"},"transform":[{"filter":"datum.p==='A'&&datum.k==='cnote'"}],"mark":{"type":"text","align":"center","baseline":"middle","fontSize":16,"color":"#000"},"encoding":{"text":{"field":"txt"}}},
{"data":{"name":"ann"},"transform":[{"filter":"datum.p==='A'&&datum.k==='star'"}],"mark":{"type":"text","align":"center","baseline":"middle","fontSize":26,"dy":7,"color":"#000"},"encoding":{"text":{"field":"txt"}}},
{"data":{"name":"ann"},"transform":[{"filter":"datum.p==='A'&&datum.k==='bar'"}],"mark":{"type":"rule","color":"#000","strokeWidth":3},"encoding":{"x2":{"field":"t2"}}},
{"data":{"name":"ann"},"transform":[{"filter":"datum.p==='A'&&datum.k==='legc'"}],"mark":{"type":"rule","color":"#000","strokeWidth":3},"encoding":{"x2":{"field":"t2"}}},
{"data":{"name":"ann"},"transform":[{"filter":"datum.p==='A'&&datum.k==='lega'"}],"mark":{"type":"rule","color":"#bebebe","strokeWidth":3},"encoding":{"x2":{"field":"t2"}}}
]},
{"width":640,"height":183,
"encoding":{"x":{"field":"t","type":"quantitative","scale":{"domain":[0,2000],"nice":false,"zero":false},"axis":null},
"y":{"field":"v","type":"quantitative","scale":{"domain":[0,1.6],"nice":false,"zero":false},"axis":{"title":"(μM)","values":[0,0.2,0.4,0.6,0.8,1.0,1.2,1.4,1.6],"format":".1f","titleX":-50,"titleBaseline":"middle"}}},
"layer":[
{"data":{"name":"Ba"},"mark":{"type":"line","color":"#bebebe","strokeWidth":2.6,"interpolate":"monotone"}},
{"data":{"name":"Bc"},"mark":{"type":"line","color":"#000000","strokeWidth":2.8,"interpolate":"monotone"}},
{"data":{"name":"ann"},"transform":[{"filter":"datum.p==='B'&&datum.k==='letter'"}],"mark":{"type":"text","align":"left","baseline":"middle","fontSize":18,"fontWeight":"bold","color":"#000"},"encoding":{"text":{"field":"txt"}}},
{"data":{"name":"ann"},"transform":[{"filter":"datum.p==='B'&&datum.k==='big'"}],"mark":{"type":"text","align":"left","baseline":"middle","fontSize":18,"color":"#000"},"encoding":{"text":{"field":"txt"}}},
{"data":{"name":"ann"},"transform":[{"filter":"datum.p==='B'&&datum.k==='sub'"}],"mark":{"type":"text","align":"left","baseline":"middle","fontSize":11,"color":"#000"},"encoding":{"text":{"field":"txt"}}},
{"data":{"name":"ann"},"transform":[{"filter":"datum.p==='B'&&datum.k==='cnote'"}],"mark":{"type":"text","align":"center","baseline":"middle","fontSize":16,"color":"#000"},"encoding":{"text":{"field":"txt"}}},
{"data":{"name":"ann"},"transform":[{"filter":"datum.p==='B'&&datum.k==='bar'"}],"mark":{"type":"rule","color":"#000","strokeWidth":3},"encoding":{"x2":{"field":"t2"}}},
{"data":{"name":"ann"},"transform":[{"filter":"datum.p==='B'&&datum.k==='arrow'"}],"mark":{"type":"rule","color":"#000","strokeWidth":2},"encoding":{"y2":{"field":"v2"}}},
{"data":{"name":"ann"},"transform":[{"filter":"datum.p==='B'&&datum.k==='head'"}],"mark":{"type":"point","shape":"M0,1L-0.7,-1L0.7,-1Z","size":196,"filled":true,"color":"#000","opacity":1}}
]},
{"width":640,"height":181,
"encoding":{"x":{"field":"t","type":"quantitative","scale":{"domain":[0,2000],"nice":false,"zero":false},"axis":null},
"y":{"field":"v","type":"quantitative","scale":{"domain":[0.5,3.0],"nice":false,"zero":false},"axis":{"title":"(mM)","values":[0.5,1.0,1.5,2.0,2.5,3.0],"format":".1f","titleX":-51,"titleBaseline":"middle"}}},
"layer":[
{"data":{"name":"Ca"},"mark":{"type":"line","color":"#bebebe","strokeWidth":2.6,"interpolate":"monotone"}},
{"data":{"name":"Cc"},"mark":{"type":"line","color":"#000000","strokeWidth":2.8,"interpolate":"monotone"}},
{"data":{"name":"ann"},"transform":[{"filter":"datum.p==='C'&&datum.k==='letter'"}],"mark":{"type":"text","align":"left","baseline":"middle","fontSize":18,"fontWeight":"bold","color":"#000"},"encoding":{"text":{"field":"txt"}}},
{"data":{"name":"ann"},"transform":[{"filter":"datum.p==='C'&&datum.k==='big'"}],"mark":{"type":"text","align":"left","baseline":"middle","fontSize":18,"color":"#000"},"encoding":{"text":{"field":"txt"}}},
{"data":{"name":"ann"},"transform":[{"filter":"datum.p==='C'&&datum.k==='sub'"}],"mark":{"type":"text","align":"left","baseline":"middle","fontSize":11,"color":"#000"},"encoding":{"text":{"field":"txt"}}},
{"data":{"name":"ann"},"transform":[{"filter":"datum.p==='C'&&datum.k==='cnote'"}],"mark":{"type":"text","align":"center","baseline":"middle","fontSize":16,"color":"#000"},"encoding":{"text":{"field":"txt"}}},
{"data":{"name":"ann"},"transform":[{"filter":"datum.p==='C'&&datum.k==='bar'"}],"mark":{"type":"rule","color":"#000","strokeWidth":3},"encoding":{"x2":{"field":"t2"}}}
]},
{"width":658,"height":157,
"resolve":{"scale":{"x":"independent","y":"independent"},"axis":{"x":"independent","y":"independent"}},
"layer":[
{"encoding":{"x":{"field":"t","type":"quantitative","scale":{"domain":[0,4000],"range":[5,279],"nice":false,"zero":false},"axis":{"orient":"bottom","title":"time after final paced beat (ms)","values":[0,1000,2000,3000,4000],"format":"d","titlePadding":2,"labelPadding":3}},
"y":{"field":"v","type":"quantitative","scale":{"domain":[-100,60],"range":[157,0],"nice":false,"zero":false},"axis":{"orient":"left","offset":-5,"title":"(mV)","values":[-100,-80,-60,-40,-20,0,20,40,60],"titleX":-49,"titleY":67,"titleBaseline":"middle","labelExpr":"replace(datum.label,'−','-')"}}},
"layer":[
{"data":{"name":"Da"},"mark":{"type":"line","color":"#bebebe","strokeWidth":2.6,"interpolate":"monotone"}},
{"data":{"name":"Dc"},"mark":{"type":"line","color":"#000000","strokeWidth":2.8,"interpolate":"monotone"}},
{"data":{"name":"ann"},"transform":[{"filter":"datum.p==='D'&&datum.k==='letter'"}],"mark":{"type":"text","align":"left","baseline":"middle","fontSize":18,"fontWeight":"bold","color":"#000"},"encoding":{"text":{"field":"txt"}}},
{"data":{"name":"ann"},"transform":[{"filter":"datum.p==='D'&&datum.k==='big'"}],"mark":{"type":"text","align":"left","baseline":"middle","fontSize":18,"color":"#000"},"encoding":{"text":{"field":"txt"}}},
{"data":{"name":"ann"},"transform":[{"filter":"datum.p==='D'&&datum.k==='sub'"}],"mark":{"type":"text","align":"left","baseline":"middle","fontSize":11,"color":"#000"},"encoding":{"text":{"field":"txt"}}},
{"data":{"name":"ann"},"transform":[{"filter":"datum.p==='D'&&datum.k==='ital'"}],"mark":{"type":"text","align":"left","baseline":"middle","fontSize":16,"fontStyle":"italic","color":"#000"},"encoding":{"text":{"field":"txt"}}},
{"data":{"name":"ann"},"transform":[{"filter":"datum.p==='D'&&datum.k==='star'"}],"mark":{"type":"text","align":"center","baseline":"middle","fontSize":26,"dy":7,"color":"#000"},"encoding":{"text":{"field":"txt"}}}
]},
{"encoding":{"x":{"field":"t","type":"quantitative","scale":{"domain":[0,4000],"range":[383,658],"nice":false,"zero":false},"axis":{"orient":"bottom","title":"time after final paced beat (ms)","values":[0,1000,2000,3000,4000],"format":"d","titlePadding":2,"labelPadding":3}},
"y":{"field":"v","type":"quantitative","scale":{"domain":[-0.4,0.6],"range":[157,0],"nice":false,"zero":false},"axis":{"orient":"left","offset":-383,"title":"(μA/μF)","values":[-0.4,-0.2,0,0.2,0.4,0.6],"format":".1f","titleX":-47,"titleY":90,"titleBaseline":"middle","labelExpr":"replace(datum.label,'−','-')"}}},
"layer":[
{"data":{"name":"Fa"},"mark":{"type":"line","color":"#bebebe","strokeWidth":2.6,"interpolate":"monotone"}},
{"data":{"name":"Fc"},"mark":{"type":"line","color":"#000000","strokeWidth":2.8,"interpolate":"monotone"}},
{"data":{"name":"ann"},"transform":[{"filter":"datum.p==='F'&&datum.k==='letter'"}],"mark":{"type":"text","align":"left","baseline":"middle","fontSize":18,"fontWeight":"bold","color":"#000"},"encoding":{"text":{"field":"txt"}}},
{"data":{"name":"ann"},"transform":[{"filter":"datum.p==='F'&&datum.k==='big'"}],"mark":{"type":"text","align":"left","baseline":"middle","fontSize":18,"color":"#000"},"encoding":{"text":{"field":"txt"}}},
{"data":{"name":"ann"},"transform":[{"filter":"datum.p==='F'&&datum.k==='sub'"}],"mark":{"type":"text","align":"left","baseline":"middle","fontSize":11,"color":"#000"},"encoding":{"text":{"field":"txt"}}},
{"data":{"name":"ann"},"transform":[{"filter":"datum.p==='F'&&datum.k==='ital'"}],"mark":{"type":"text","align":"left","baseline":"middle","fontSize":16,"fontStyle":"italic","color":"#000"},"encoding":{"text":{"field":"txt"}}}
]}
]},
{"width":658,"height":165,
"resolve":{"scale":{"x":"independent","y":"independent"},"axis":{"x":"independent","y":"independent"}},
"layer":[
{"encoding":{"x":{"field":"t","type":"quantitative","scale":{"domain":[0,4000],"range":[5,279],"nice":false,"zero":false},"axis":{"orient":"bottom","offset":-4,"title":"time after final paced beat (ms)","values":[0,1000,2000,3000,4000],"format":"d","titlePadding":2,"labelPadding":3}},
"y":{"field":"v","type":"quantitative","scale":{"domain":[0,2],"range":[161,10],"nice":false,"zero":false},"axis":{"orient":"left","offset":-5,"title":"(μM)","values":[0,0.5,1.0,1.5,2.0],"format":".1f","titleX":-49,"titleY":92,"titleBaseline":"middle"}}},
"layer":[
{"data":{"name":"Ea"},"mark":{"type":"line","color":"#bebebe","strokeWidth":2.6,"interpolate":"monotone"}},
{"data":{"name":"Ec"},"mark":{"type":"line","color":"#000000","strokeWidth":2.8,"interpolate":"monotone"}},
{"data":{"name":"ann"},"transform":[{"filter":"datum.p==='E'&&datum.k==='letter'"}],"mark":{"type":"text","align":"left","baseline":"middle","fontSize":18,"fontWeight":"bold","color":"#000"},"encoding":{"text":{"field":"txt"}}},
{"data":{"name":"ann"},"transform":[{"filter":"datum.p==='E'&&datum.k==='big'"}],"mark":{"type":"text","align":"left","baseline":"middle","fontSize":18,"color":"#000"},"encoding":{"text":{"field":"txt"}}},
{"data":{"name":"ann"},"transform":[{"filter":"datum.p==='E'&&datum.k==='sub'"}],"mark":{"type":"text","align":"left","baseline":"middle","fontSize":11,"color":"#000"},"encoding":{"text":{"field":"txt"}}},
{"data":{"name":"ann"},"transform":[{"filter":"datum.p==='E'&&datum.k==='arrow'"}],"mark":{"type":"rule","color":"#000","strokeWidth":2},"encoding":{"y2":{"field":"v2"}}},
{"data":{"name":"ann"},"transform":[{"filter":"datum.p==='E'&&datum.k==='head'"}],"mark":{"type":"point","shape":"M0,1L-0.7,-1L0.7,-1Z","size":196,"filled":true,"color":"#000","opacity":1}}
]},
{"encoding":{"x":{"field":"t","type":"quantitative","scale":{"domain":[0,4000],"range":[383,658],"nice":false,"zero":false},"axis":{"orient":"bottom","title":"time after final paced beat (ms)","values":[0,1000,2000,3000,4000],"format":"d","titlePadding":2,"labelPadding":3}},
"y":{"field":"v","type":"quantitative","scale":{"domain":[-25,4.5],"range":[165,13],"nice":false,"zero":false},"axis":{"orient":"left","offset":-383,"title":"(μA/μF)","values":[-25,-20,-15,-10,-5,0],"format":"d","titleX":-49,"titleY":103,"titleBaseline":"middle","labelExpr":"replace(datum.label,'−','-')"}}},
"layer":[
{"data":{"name":"Ga"},"mark":{"type":"line","color":"#bebebe","strokeWidth":2.6,"interpolate":"linear"}},
{"data":{"name":"Gc"},"mark":{"type":"line","color":"#000000","strokeWidth":2.8,"interpolate":"linear"}},
{"data":{"name":"ann"},"transform":[{"filter":"datum.p==='G'&&datum.k==='letter'"}],"mark":{"type":"text","align":"left","baseline":"middle","fontSize":18,"fontWeight":"bold","color":"#000"},"encoding":{"text":{"field":"txt"}}},
{"data":{"name":"ann"},"transform":[{"filter":"datum.p==='G'&&datum.k==='big'"}],"mark":{"type":"text","align":"left","baseline":"middle","fontSize":18,"color":"#000"},"encoding":{"text":{"field":"txt"}}},
{"data":{"name":"ann"},"transform":[{"filter":"datum.p==='G'&&datum.k==='sub'"}],"mark":{"type":"text","align":"left","baseline":"middle","fontSize":11,"color":"#000"},"encoding":{"text":{"field":"txt"}}}
]}
]}
]
}
